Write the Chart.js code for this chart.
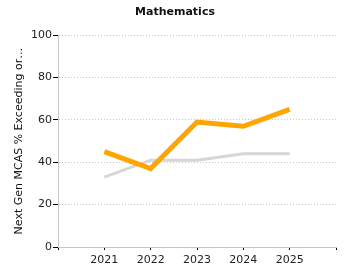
<!DOCTYPE html>
<html>
<head>
<meta charset="utf-8">
<script src="https://cdn.jsdelivr.net/npm/chart.js@4/dist/chart.umd.min.js"></script>
<style>
html,body{margin:0;padding:0;background:#fff;}
#wrap{width:350px;height:280px;}
</style>
</head>
<body>
<div id="wrap"><canvas id="c" width="350" height="280"></canvas></div>
<script>
const years = [2021, 2022, 2023, 2024, 2025];
const schoolValues = [45, 37, 59, 57, 65];
const stateValues = [33, 41, 41, 44, 44];
const yTicks = [0, 20, 40, 60, 80, 100];
const chartTitle = 'Mathematics';
const yTitle = 'Next Gen MCAS % Exceeding or…';

const FONT = "'DejaVu Sans', Verdana, sans-serif";
const toXY = (vals) => years.map((y, i) => ({x: y, y: vals[i]}));

new Chart(document.getElementById('c'), {
  type: 'line',
  data: {
    datasets: [
      {label: 'State', data: toXY(stateValues), borderColor: '#d6d6d6', borderWidth: 3, pointRadius: 0, tension: 0, order: 2},
      {label: 'School', data: toXY(schoolValues), borderColor: '#ffa500', borderWidth: 5, pointRadius: 0, tension: 0, order: 1}
    ]
  },
  options: {
    responsive: false,
    animation: false,
    layout: {padding: 0},
    plugins: {
      legend: {display: false},
      tooltip: {enabled: false},
      title: {display: true, text: chartTitle, color: '#111', font: {family: FONT, size: 11, weight: 'bold'}, padding: {top: 6, bottom: 16}}
    },
    scales: {
      x: {
        type: 'linear', min: 2020, max: 2026,
        afterFit: (s) => { s.height = 33; },
        ticks: {stepSize: 1, autoSkip: false, padding: 4, color: '#222', font: {family: FONT, size: 11},
          callback: (v) => years.includes(v) ? String(v) : ''},
        grid: {display: true, drawOnChartArea: false, drawTicks: true, tickLength: 3, tickColor: '#000'},
        border: {display: true, color: '#c8c8c8', width: 1}
      },
      y: {
        min: 0, max: 100,
        afterFit: (s) => { s.width = 58; },
        afterBuildTicks: (s) => { s.ticks = yTicks.map(v => ({value: v})); },
        ticks: {padding: 1, color: '#222', font: {family: FONT, size: 11}},
        title: {display: true, text: yTitle, color: '#111', font: {family: FONT, size: 11}, padding: {top: 13, bottom: 0}},
        grid: {color: '#c8c8c8', tickLength: 5, tickColor: '#000', tickBorderDash: []},
        border: {display: true, color: '#c8c8c8', width: 1, dash: [1, 2]}
      },
      yRight: {
        position: 'right', min: 0, max: 100,
        afterFit: (s) => { s.width = 14; },
        ticks: {display: false},
        grid: {display: false},
        border: {display: false}
      }
    }
  }
});
</script>
</body>
</html>
